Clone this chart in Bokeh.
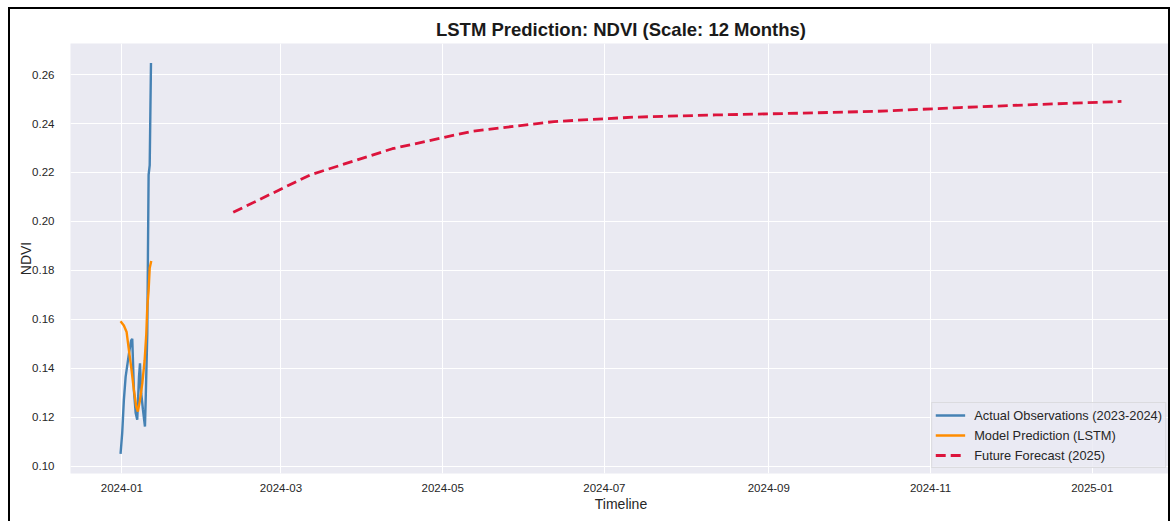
import pandas as pd
from bokeh.plotting import figure
from bokeh.models import (Range1d, FixedTicker, DatetimeTickFormatter, PrintfTickFormatter,
                          Legend, LegendItem, Title)
from bokeh.embed import file_html
from bokeh.resources import INLINE

# ---- data ----
actual_dates = ["2023-12-31 12:00", "2024-01-01 03:00", "2024-01-01 18:00", "2024-01-02 10:00",
                "2024-01-03 16:00", "2024-01-04 12:00", "2024-01-04 22:00", "2024-01-05 13:00",
                "2024-01-06 05:00", "2024-01-06 19:00", "2024-01-07 11:00", "2024-01-07 20:00",
                "2024-01-08 07:00", "2024-01-08 23:00", "2024-01-09 17:00", "2024-01-09 23:30",
                "2024-01-10 14:00", "2024-01-11 02:00", "2024-01-11 12:00", "2024-01-11 23:30"]
actual_ndvi = [0.105, 0.1135, 0.127, 0.1365, 0.146, 0.1514, 0.152, 0.131, 0.1217, 0.119,
               0.1365, 0.142, 0.1298, 0.123, 0.1162, 0.127, 0.154, 0.219, 0.223, 0.2647]

pred_dates = ["2023-12-31 12:00", "2024-01-01 18:00", "2024-01-02 19:00", "2024-01-03 16:00",
              "2024-01-04 12:00", "2024-01-05 13:00", "2024-01-06 10:00", "2024-01-07 01:00",
              "2024-01-07 20:00", "2024-01-08 17:00", "2024-01-09 14:00", "2024-01-10 05:00",
              "2024-01-10 14:00", "2024-01-11 02:00", "2024-01-11 12:00", "2024-01-12 02:00"]
pred_ndvi = [0.1592, 0.1575, 0.1548, 0.1473, 0.1406, 0.1311, 0.1243, 0.1223, 0.127, 0.1338,
             0.1433, 0.154, 0.1649, 0.1717, 0.181, 0.1838]

forecast_dates = ["2024-02-12", "2024-03-12", "2024-04-12", "2024-05-12", "2024-06-12", "2024-07-12",
                  "2024-08-12", "2024-09-12", "2024-10-12", "2024-11-12", "2024-12-12", "2025-01-12"]
forecast_ndvi = [0.2037, 0.2190, 0.2297, 0.2368, 0.2408, 0.2426, 0.2435, 0.2442, 0.2450, 0.2465,
                 0.2478, 0.2490]

x_tick_dates = ["2024-01-01", "2024-03-01", "2024-05-01", "2024-07-01", "2024-09-01",
                "2024-11-01", "2025-01-01"]
y_ticks = [0.10, 0.12, 0.14, 0.16, 0.18, 0.20, 0.22, 0.24, 0.26]

FONT = "Liberation Sans"
TXT = "#262626"

a_x = pd.to_datetime(actual_dates)
p_x = pd.to_datetime(pred_dates)
f_x = pd.to_datetime(forecast_dates)

all_x = list(a_x) + list(p_x) + list(f_x)
xmin, xmax = min(all_x), max(all_x)
xpad = (xmax - xmin) * 0.05
all_y = actual_ndvi + pred_ndvi + forecast_ndvi
ymin, ymax = min(all_y), max(all_y)
ypad = (ymax - ymin) * 0.05

p = figure(width=1162, height=514, x_axis_type="datetime", output_backend="svg",
           toolbar_location=None,
           x_range=Range1d(xmin - xpad, xmax + xpad), y_range=Range1d(ymin - ypad, ymax + ypad),
           min_border_left=60, min_border_right=1, min_border_top=34, min_border_bottom=50)
p.styles = {"border-left": "2px solid #000000", "border-top": "2px solid #000000",
            "border-right": "2px solid #000000", "margin-left": "8px", "margin-top": "7px"}

p.title = Title(text="LSTM Prediction: NDVI (Scale: 12 Months)", align="center",
                text_font=FONT, text_font_size="18.5px", text_font_style="bold",
                text_color="#1a1a1a", standoff=7)

p.background_fill_color = "#EAEAF2"
p.border_fill_color = "white"
p.outline_line_color = None
p.grid.grid_line_color = "white"
p.grid.grid_line_width = 1

ticks_ms = [pd.Timestamp(d).value / 1e6 for d in x_tick_dates]
p.xaxis.ticker = FixedTicker(ticks=ticks_ms)
p.xaxis.formatter = DatetimeTickFormatter(days="%Y-%m", months="%Y-%m", years="%Y-%m")
p.yaxis.ticker = FixedTicker(ticks=y_ticks)
p.yaxis.formatter = PrintfTickFormatter(format="%.2f")
p.xgrid.ticker = FixedTicker(ticks=ticks_ms)

for ax in (p.xaxis[0], p.yaxis[0]):
    ax.axis_line_color = None
    ax.major_tick_line_color = None
    ax.minor_tick_line_color = None
    ax.major_label_text_font = FONT
    ax.major_label_text_font_size = "11.5px"
    ax.major_label_text_color = TXT
    ax.axis_label_text_font = FONT
    ax.axis_label_text_font_size = "14px"
    ax.axis_label_text_font_style = "normal"
    ax.axis_label_text_color = TXT
p.xaxis.major_label_standoff = 4
p.xaxis.axis_label_standoff = 1
p.yaxis.major_label_standoff = 10
p.yaxis.axis_label_standoff = -5
p.xaxis.axis_label = "Timeline"
p.yaxis.axis_label = "NDVI"

r1 = p.line(a_x, actual_ndvi, line_color="#4682B4", line_width=2.4)
r2 = p.line(p_x, pred_ndvi, line_color="#FF8C00", line_width=2.4)
r3 = p.line(f_x, forecast_ndvi, line_color="#DC143C", line_width=2.8, line_dash="10 5")

legend = Legend(items=[LegendItem(label="Actual Observations (2023-2024)", renderers=[r1]),
                       LegendItem(label="Model Prediction (LSTM)", renderers=[r2]),
                       LegendItem(label="Future Forecast (2025)", renderers=[r3])],
                location="bottom_right", margin=5, padding=3, spacing=2,
                glyph_width=30, glyph_height=18, label_height=18, label_standoff=9,
                label_text_font=FONT, label_text_font_size="12.8px", label_text_color=TXT,
                background_fill_color="#EAEAF2", background_fill_alpha=0.8,
                border_line_color="#CCCCCC", border_line_width=1)
p.add_layout(legend)

open("out.html", "w").write(file_html(p, INLINE))
